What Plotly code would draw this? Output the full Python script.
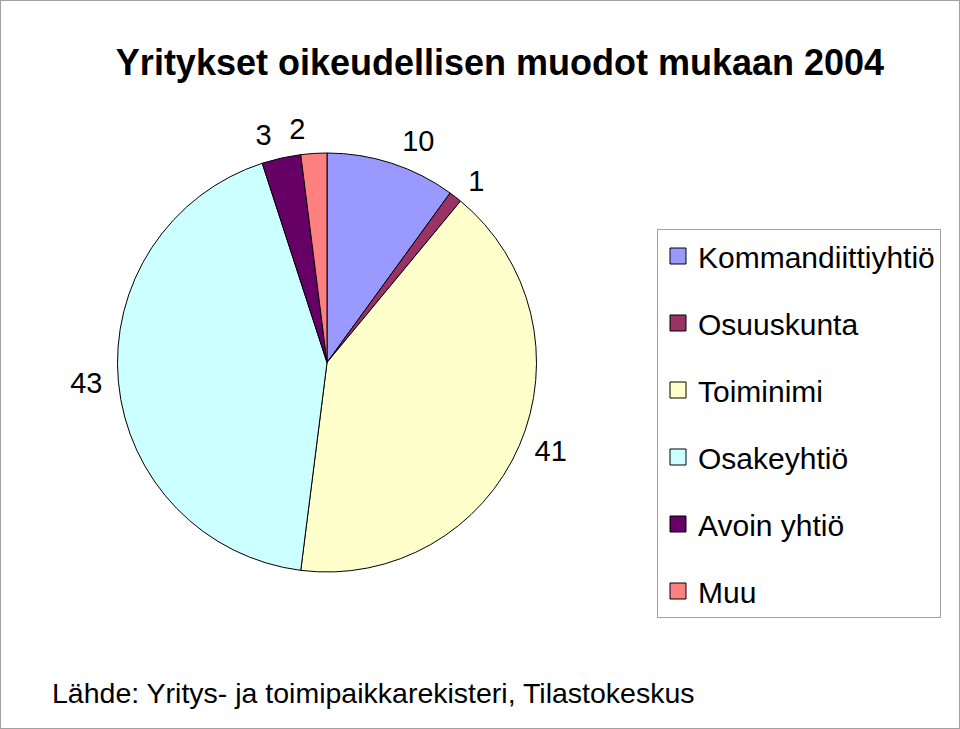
import plotly.graph_objects as go

categories = ["Kommandiittiyhtiö", "Osuuskunta", "Toiminimi", "Osakeyhtiö", "Avoin yhtiö", "Muu"]
values = [10, 1, 41, 43, 3, 2]
colors = ["#9999FF", "#993366", "#FFFFCC", "#CCFFFF", "#660066", "#FF8080"]
title_text = "Yritykset oikeudellisen muodot mukaan 2004"
source_text = "Lähde: Yritys- ja toimipaikkarekisteri, Tilastokeskus"

FONT = "Liberation Sans, Arial, sans-serif"

# pie geometry (paper fractions)
px0, px1, py0, py1 = 117/960, 537/960, 1-572/729, 1-153/729
pad_x, pad_y = 8/960, 8/729

fig = go.Figure()
# visible pie
fig.add_trace(go.Pie(
    labels=categories, values=values, sort=False, direction="clockwise", rotation=0,
    marker=dict(colors=colors, line=dict(color="black", width=1)),
    textinfo="none", showlegend=False, automargin=False,
    domain=dict(x=[px0, px1], y=[py0, py1]),
    hoverinfo="label+value",
))
# label layers: the same slices, transparent, slightly larger so the values sit a bit further out;
# split into two layers so the neighbouring small slices do not push each other aside
label_layers = [
    [str(v) if c != "Muu" else "" for c, v in zip(categories, values)],
    [str(v) if c == "Muu" else "" for c, v in zip(categories, values)],
]
for texts in label_layers:
    fig.add_trace(go.Pie(
        labels=categories, values=values, sort=False, direction="clockwise", rotation=0,
        marker=dict(colors=["rgba(0,0,0,0)"] * len(values), line=dict(width=0)),
        text=texts, textinfo="text", textposition="outside",
        textfont=dict(size=29, color="black", family=FONT),
        showlegend=False, automargin=False, hoverinfo="skip",
        domain=dict(x=[px0 - pad_x, px1 + pad_x], y=[py0 - pad_y, py1 + pad_y]),
    ))
# legend entries
for i, (c, col) in enumerate(zip(categories, colors)):
    fig.add_trace(go.Scatter(
        x=[None], y=[None], mode="markers", name=c, legendgroup=f"g{i}",
        marker=dict(symbol="square", size=17, color=col, line=dict(color="black", width=1)),
    ))

fig.update_layout(
    width=960, height=729, margin=dict(l=0, r=0, t=0, b=0),
    paper_bgcolor="white", plot_bgcolor="white",
    font=dict(family=FONT, color="black"),
    title=dict(text=f"<b>{title_text}</b>", x=500/960, xanchor="center", y=1-62/729, yanchor="middle",
               font=dict(size=36, family=FONT, color="black")),
    xaxis=dict(visible=False), yaxis=dict(visible=False),
    legend=dict(x=657/960, y=1-229/729, xanchor="left", yanchor="top",
                bordercolor="#A0A0A0", borderwidth=1, bgcolor="white",
                font=dict(size=30, family=FONT, color="black"),
                tracegroupgap=25, itemclick=False),
    annotations=[dict(text=source_text, x=50/960, y=1-693/729, xref="paper", yref="paper",
                      xanchor="left", yanchor="middle", showarrow=False,
                      font=dict(size=28.5, family=FONT, color="black"))],
    shapes=[dict(type="rect", xref="paper", yref="paper", x0=0, y0=0, x1=1, y1=1,
                 line=dict(color="#A0A0A0", width=2))],
)
fig.write_html("out.html")
